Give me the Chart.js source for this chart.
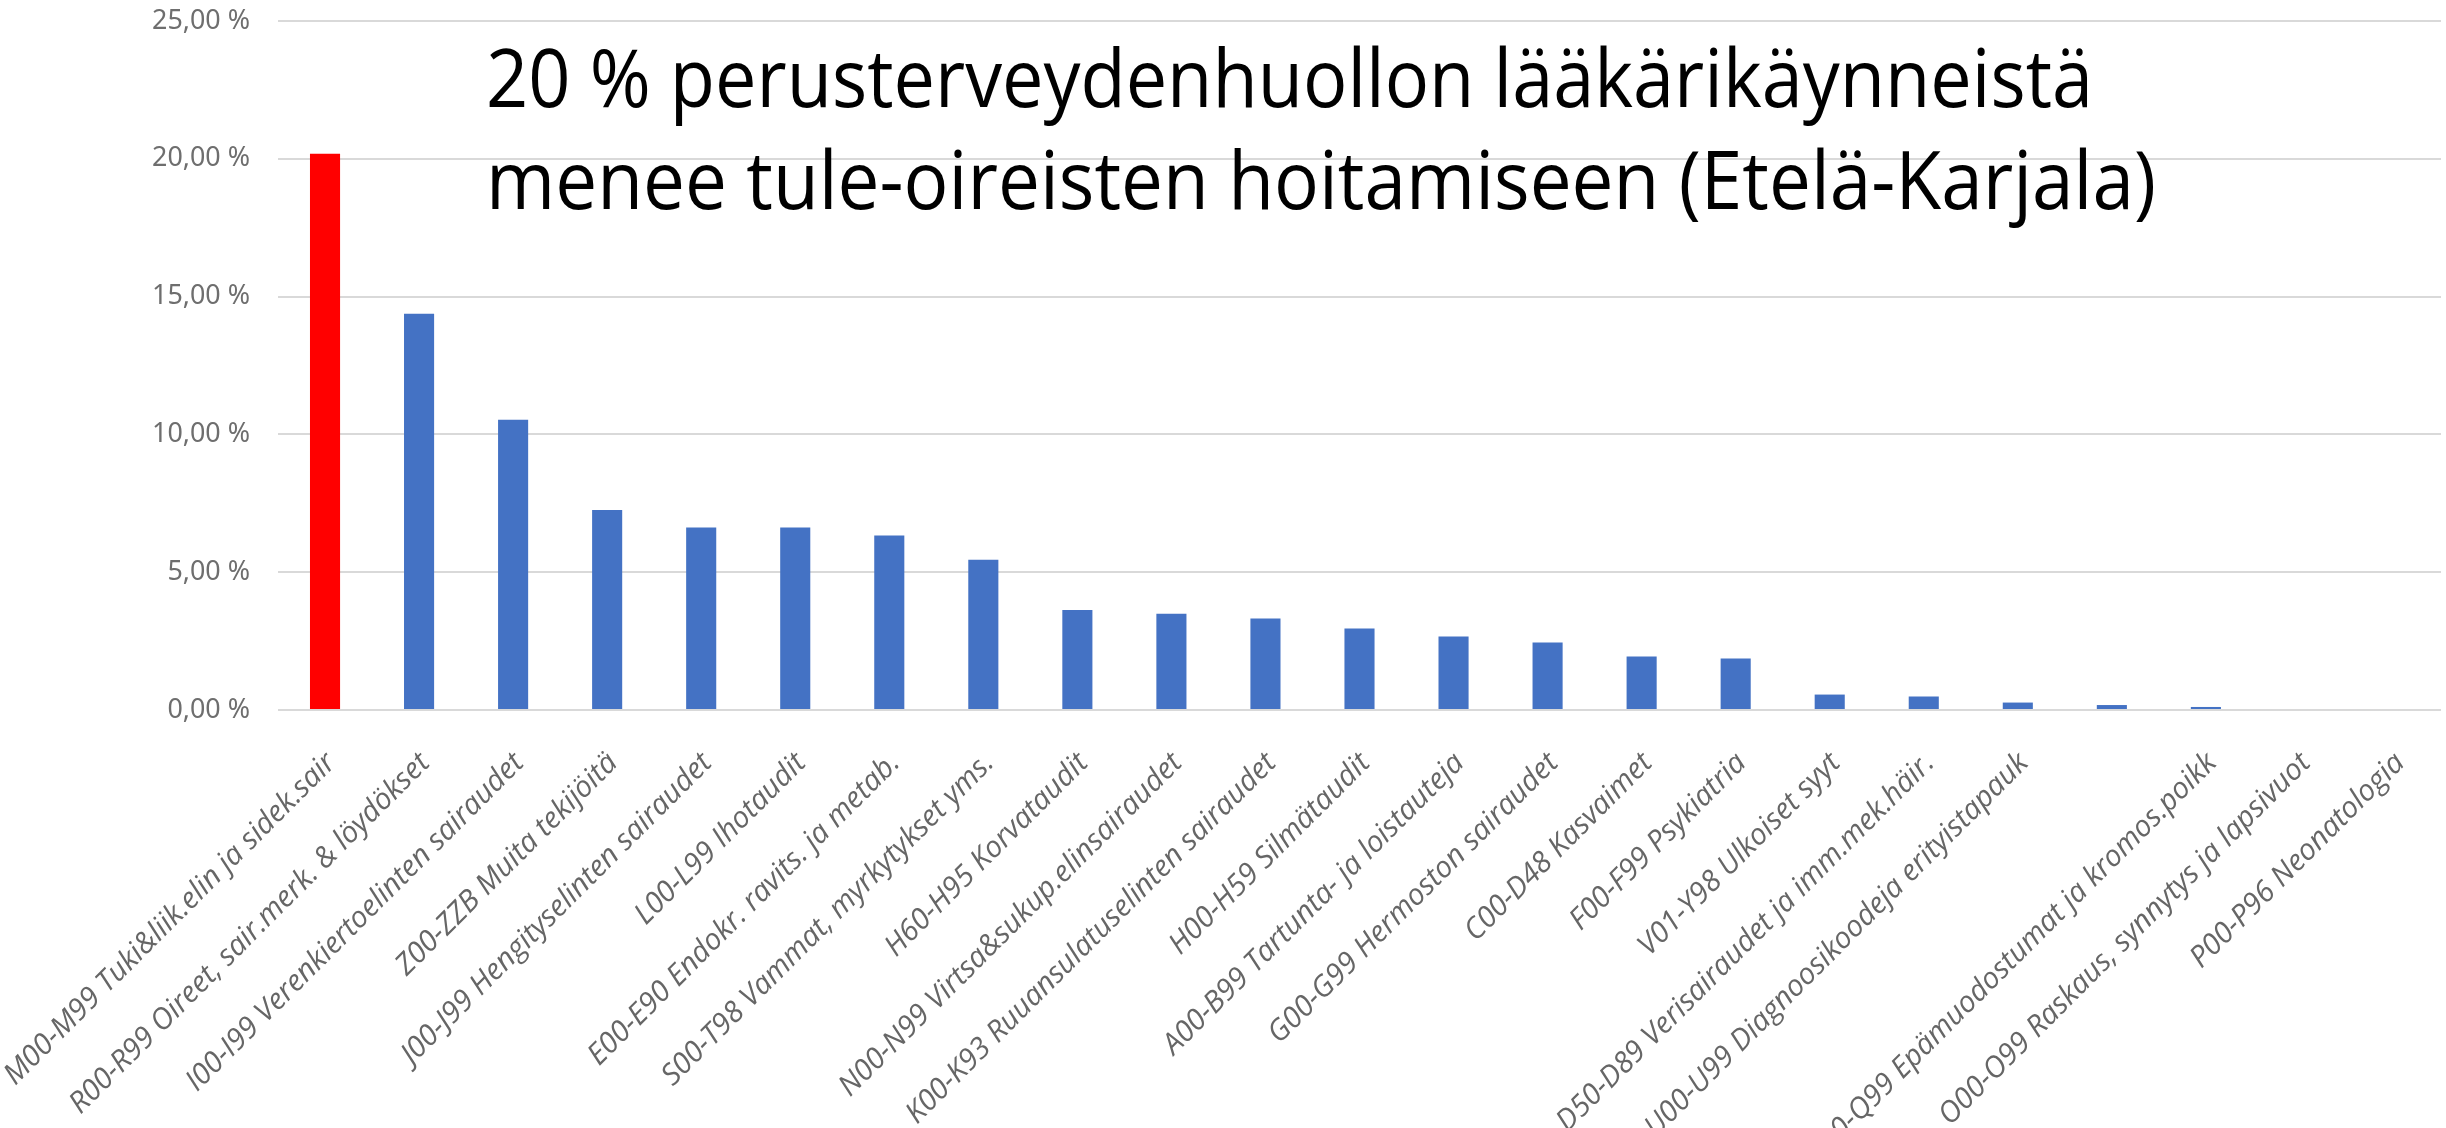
<!DOCTYPE html>
<html>
<head>
<meta charset="utf-8">
<script src="https://cdn.jsdelivr.net/npm/chart.js@4.4.0/dist/chart.umd.min.js"></script>
<style>
    html, body { margin: 0; padding: 0; background: #fff; }
</style>
</head>
<body>
<canvas id="chart" width="2446" height="1128"></canvas>
<script>
// Diagnoosiryhmät (ICD-10) ja osuus lääkärikäynneistä, %
var categories = [
    'M00-M99 Tuki&liik.elin ja sidek.sair',
    'R00-R99 Oireet, sair.merk. & löydökset',
    'I00-I99 Verenkiertoelinten sairaudet',
    'Z00-ZZB Muita tekijöitä',
    'J00-J99 Hengityselinten sairaudet',
    'L00-L99 Ihotaudit',
    'E00-E90 Endokr. ravits. ja metab.',
    'S00-T98 Vammat, myrkytykset yms.',
    'H60-H95 Korvataudit',
    'N00-N99 Virtsa&sukup.elinsairaudet',
    'K00-K93 Ruuansulatuselinten sairaudet',
    'H00-H59 Silmätaudit',
    'A00-B99 Tartunta- ja loistauteja',
    'G00-G99 Hermoston sairaudet',
    'C00-D48 Kasvaimet',
    'F00-F99 Psykiatria',
    'V01-Y98 Ulkoiset syyt',
    'D50-D89 Verisairaudet ja imm.mek.häir.',
    'U00-U99 Diagnoosikoodeja erityistapauk',
    '',
    'Q00-Q99 Epämuodostumat ja kromos.poikk',
    'O00-O99 Raskaus, synnytys ja lapsivuot',
    'P00-P96 Neonatologia'
];
var shares = [20.18, 14.38, 10.53, 7.26, 6.62, 6.62, 6.33, 5.45, 3.63, 3.49, 3.32,
              2.96, 2.67, 2.45, 1.94, 1.87, 0.56, 0.49, 0.27, 0.18, 0.11, 0, 0];
var highlighted = ['M00-M99 Tuki&liik.elin ja sidek.sair'];
var yTicks = [0, 5, 10, 15, 20, 25];
var titleLines = [
    '20 % perusterveydenhuollon lääkärikäynneistä',
    'menee tule-oireisten hoitamiseen (Etelä-Karjala)'
];

var barColors = categories.map(function(c) {
    return highlighted.indexOf(c) >= 0 ? '#ff0000' : '#4472c4';
});

// font size so that a text gets a given width
function fitSize(text, font, target) {
    var c = document.createElement('canvas').getContext('2d');
    c.font = font.replace('SIZE', '100px');
    return 100 * target / c.measureText(text).width;
}
var xFontSize = fitSize(categories[0], 'italic SIZE "Open Sans"', 455);
var yFontSize = fitSize('25,00 %', 'SIZE "Noto Sans"', 98);

// two line title drawn over the plot, squeezed to the reference width
var bigTitle = {
    id: 'bigTitle',
    afterDraw: function(chart) {
        var ctx = chart.ctx;
        var boxes = [{ x: 486, y: 107, w: 1607 }, { x: 486, y: 209, w: 1670 }];
        ctx.save();
        ctx.font = '80px "Open Sans"';
        ctx.fillStyle = '#000';
        ctx.textBaseline = 'alphabetic';
        titleLines.forEach(function(line, i) {
            var b = boxes[i];
            var sx = b.w / ctx.measureText(line).width;
            ctx.save();
            ctx.translate(b.x, b.y);
            ctx.scale(sx, 1);
            ctx.fillText(line, 0, 0);
            ctx.restore();
        });
        ctx.restore();
    }
};

new Chart(document.getElementById('chart'), {
    type: 'bar',
    data: {
        labels: categories,
        datasets: [{
            data: shares,
            backgroundColor: barColors,
            barPercentage: 0.32,
            categoryPercentage: 1
        }]
    },
    options: {
        responsive: false,
        devicePixelRatio: 1,
        animation: false,
        layout: { padding: { top: 21, right: 5, left: 0, bottom: 0 } },
        plugins: {
            legend: { display: false },
            tooltip: { enabled: false }
        },
        scales: {
            x: {
                grid: { display: false },
                border: { display: false },
                ticks: {
                    autoSkip: false,
                    minRotation: 45,
                    maxRotation: 45,
                    padding: 28,
                    labelOffset: 6,
                    color: '#666666',
                    font: { family: '"Open Sans"', style: 'italic', size: xFontSize }
                },
                afterFit: function(s) {
                    s.height = 418;
                    s.paddingLeft = 0;
                    s.paddingRight = 0;
                }
            },
            y: {
                min: 0,
                max: 25,
                afterBuildTicks: function(s) {
                    s.ticks = yTicks.map(function(v) { return { value: v }; });
                },
                ticks: {
                    padding: 28,
                    color: '#6e6e6e',
                    font: { family: '"Noto Sans"', size: yFontSize },
                    callback: function(v) {
                        return v.toFixed(2).replace('.', ',') + ' %';
                    }
                },
                grid: { color: '#d9d9d9', lineWidth: 2, drawTicks: false },
                border: { display: false },
                afterFit: function(s) {
                    s.width = 278;
                    s.paddingTop = 0;
                    s.paddingBottom = 0;
                }
            }
        }
    },
    plugins: [bigTitle]
});
</script>
</body>
</html>
